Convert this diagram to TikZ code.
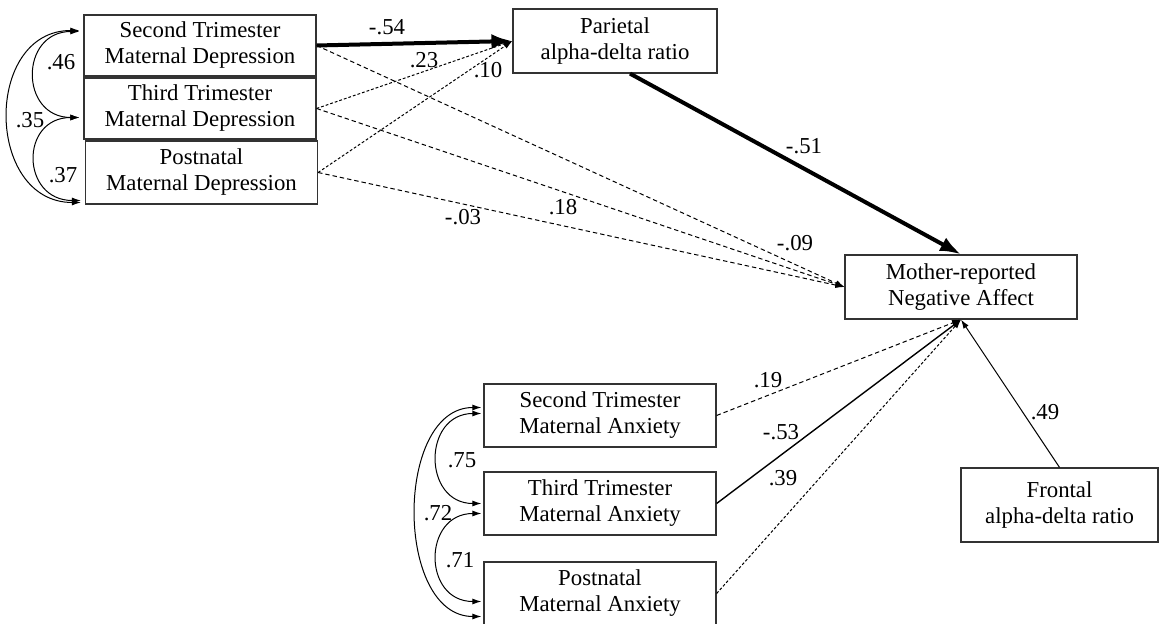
\documentclass[tikz,border=0pt]{standalone}
\usepackage{fontspec}
\setmainfont{Liberation Serif}
\usetikzlibrary{arrows.meta}

\begin{document}
\begin{tikzpicture}[
  x=0.5pt, y=-0.5pt,
  font=\fontsize{11.4}{13}\selectfont,
  >={Latex[length=4.5pt,width=3pt]},
  box/.style={draw=black!80,line width=0.6pt,align=center,
    minimum width=116pt,minimum height=30.5pt,inner sep=1pt},
  path/.style={->,line width=0.5pt},
  bold/.style={-{Latex[length=10.5pt,width=7.5pt]},line width=2pt},
  dashline/.style={path,dash pattern=on 2.2pt off 1.5pt},
  fineline/.style={path,dash pattern=on 1.4pt off 1pt},
  covar/.style={<->,line width=0.5pt},
  coef/.style={inner sep=0pt}
]
  \useasboundingbox (0,0) rectangle (1159,624);

  % depression, prenatal and postnatal
  \node[box] (dep2) at (200,45.5) {Second Trimester\\Maternal Depression};
  \node[box] (dep3) at (200,108.5) {Third Trimester\\Maternal Depression};
  \node[box,minimum height=31.5pt] (depP) at (201.5,172.5)
    {Postnatal\\Maternal Depression};

  \node[box,minimum width=102pt,minimum height=32pt] (par) at (615,41)
    {Parietal\\alpha-delta ratio};
  \node[box,minimum height=32pt] (neg) at (961,287)
    {Mother-reported\\Negative Affect};

  % anxiety
  \node[box,minimum height=31.5pt] (anx2) at (600,415.5)
    {Second Trimester\\Maternal Anxiety};
  \node[box,minimum height=31.5pt] (anx3) at (600,503.5)
    {Third Trimester\\Maternal Anxiety};
  \node[box,minimum height=31.5pt] (anxP) at (600,593.5)
    {Postnatal\\Maternal Anxiety};

  \node[box,minimum width=98.5pt,minimum height=37pt] (fro) at (1059.5,505)
    {Frontal\\alpha-delta ratio};

  % paths
  \draw[bold] (dep2.east) -- (par.west);
  \draw[dashline] (dep2.east) -- (neg.west);
  \draw[fineline] (dep3.east) -- (par.west);
  \draw[dashline] (dep3.east) -- (neg.west);
  \draw[fineline] (depP.east) -- (par.west);
  \draw[dashline] (depP.east) -- (neg.west);
  \draw[bold] ([xshift=7.5pt]par.south) -- (neg.north);

  \draw[dashline] (anx2.east) -- (neg.south);
  \draw[path,line width=0.7pt] (anx3.east) -- (neg.south);
  \draw[fineline] (anxP.east) -- (neg.south);
  \draw[path] (fro.north) -- (neg.south);

  % covariances
  \draw[covar] ([shift={(-4,-14)}]dep2.west)
    .. controls +(-60,0) and +(-60,0) .. ([shift={(-4,9)}]dep3.west);
  \draw[covar] ([shift={(-4,9)}]dep3.west)
    .. controls +(-60,0) and +(-60,0) .. ([shift={(-4,28)}]depP.west);
  \draw[covar] ([shift={(-4,-15)}]dep2.west)
    .. controls +(-96,0) and +(-96,0) .. ([shift={(-4,30)}]depP.west);

  \draw[covar] ([shift={(-2,-2)}]anx2.west)
    .. controls +(-59,0) and +(-59,0) .. ([shift={(-2,0)}]anx3.west);
  \draw[covar] ([shift={(-2,10)}]anx3.west)
    .. controls +(-59,0) and +(-59,0) .. ([shift={(-2,8)}]anxP.west);
  \draw[covar] ([shift={(-2,-8)}]anx2.west)
    .. controls +(-87,0) and +(-87,0) .. ([shift={(-2,23)}]anxP.west);

  % coefficients
  \node[coef] (c54) at (387,27) {-.54};
  \node[coef] (c23) at (424,60) {.23};
  \node[coef] (c10) at (488,70) {.10};
  \node[coef] (c18) at (563,207) {.18};
  \node[coef] (c03) at (463,217) {-.03};
  \node[coef] (c09) at (795,243) {-.09};
  \node[coef] (c51) at (804,146) {-.51};
  \node[coef] (c19) at (768,380) {.19};
  \node[coef] (c53) at (781,432) {-.53};
  \node[coef] (c39) at (783,478) {.39};
  \node[coef] (c49) at (1045,412) {.49};
  \node[coef] (c46) at (61,62) {.46};
  \node[coef] (c35) at (30,120) {.35};
  \node[coef] (c37) at (63,175) {.37};
  \node[coef] (c75) at (462,460) {.75};
  \node[coef] (c72) at (438,513) {.72};
  \node[coef] (c71) at (460,560) {.71};
\end{tikzpicture}
\end{document}
